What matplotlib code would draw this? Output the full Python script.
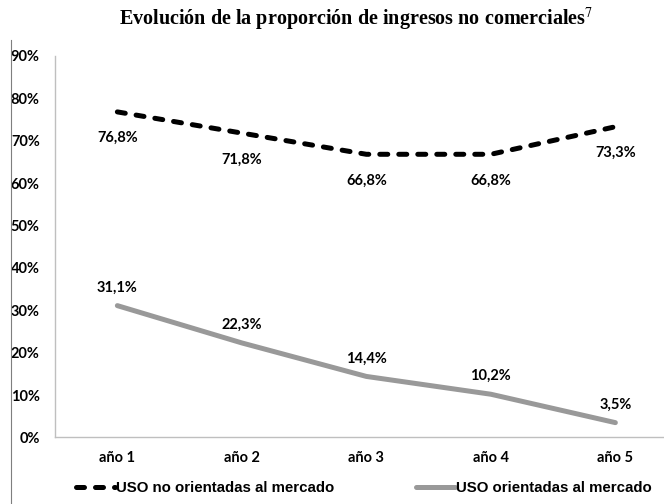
import matplotlib
matplotlib.use("Agg")
from matplotlib import pyplot
from matplotlib.lines import Line2D

anos = ["año 1", "año 2", "año 3", "año 4", "año 5"]
no_orientadas = [76.8, 71.8, 66.8, 66.8, 73.3]
orientadas = [31.1, 22.3, 14.4, 10.2, 3.5]
etiquetas_y = ["0%", "10%", "20%", "30%", "40%", "50%", "60%", "70%", "80%", "90%"]

fuente = "Lato"
tam = 10.5
gris = "#999999"

fig = pyplot.figure(figsize=(6.64, 5.04), dpi=100)
ax = fig.add_axes([0.083, 0.132, 0.9375, 0.757])

x = list(range(len(anos)))
ax.plot(x, no_orientadas, color="black", lw=3.6, dashes=(1.6, 2.2),
        dash_capstyle="round", solid_capstyle="round",
        label="USO no orientadas al mercado")
ax.plot(x, orientadas, color=gris, lw=3.6, solid_capstyle="round",
        label="USO orientadas al mercado")

for i, v in enumerate(no_orientadas):
    ax.annotate(("%.1f%%" % v).replace(".", ","), (i, v), xytext=(0, -19),
                textcoords="offset points", ha="center", va="center",
                fontsize=tam, fontweight="bold", family=fuente)
for i, v in enumerate(orientadas):
    ax.annotate(("%.1f%%" % v).replace(".", ","), (i, v), xytext=(0, 13),
                textcoords="offset points", ha="center", va="center",
                fontsize=tam, fontweight="bold", family=fuente)

ax.set_xlim(-0.5, 4.5)
ax.set_ylim(0, 90)
ax.set_xticks(x)
ax.set_xticklabels(anos, fontsize=tam, fontweight="bold", family=fuente)
ax.set_yticks(range(0, 91, 10))
ax.set_yticklabels(etiquetas_y, fontsize=tam, fontweight="bold", family=fuente)
ax.tick_params(length=0)
ax.tick_params(axis="x", pad=10)
ax.tick_params(axis="y", pad=11)
for lado in ["top", "right"]:
    ax.spines[lado].set_visible(False)
for lado in ["left", "bottom"]:
    ax.spines[lado].set_color("#bfbfbf")
    ax.spines[lado].set_linewidth(1.0)

fig.text(0.537, 0.962, "Evolución de la proporción de ingresos no comerciales$^{7}$",
         ha="center", va="center", fontsize=14.5, fontweight="bold",
         family="Liberation Serif", math_fontfamily="stix")

# borde izquierdo del marco
fig.add_artist(Line2D([0.017, 0.017], [0.0, 0.92], color="#7f7f7f", lw=0.8))

fig.legend(loc="center", bbox_to_anchor=(0.548, 0.032), ncol=2, frameon=False,
           prop={"family": "Liberation Sans", "weight": "bold", "size": 10.8},
           handlelength=2.6, handletextpad=0.1, columnspacing=5.4)

fig.savefig("out.png", dpi=100)
